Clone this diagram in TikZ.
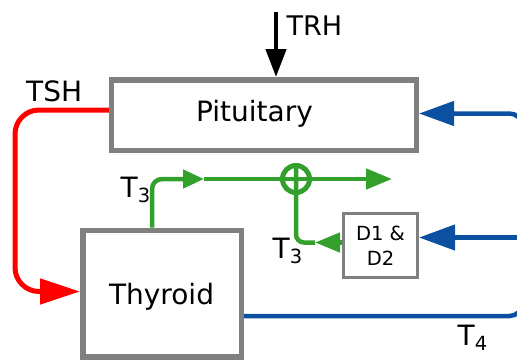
\documentclass[tikz,border=0pt]{standalone}
\usepackage{fontspec}
\setmainfont{DejaVu Sans}
\usetikzlibrary{arrows.meta}
\definecolor{cgray}{RGB}{128,128,128}
\definecolor{cgreen}{RGB}{51,160,44}
\definecolor{cblue}{RGB}{12,80,162}
\newcommand\tsubx[1]{T\raisebox{-5pt}{\fontsize{19.5}{19.5}\selectfont #1}}
\begin{document}
\begin{tikzpicture}[x=1pt,y=-1pt,
  box/.style={draw=cgray, line width=5.5pt, rectangle, inner sep=0pt, fill=white},
  lbl/.style={inner sep=0pt, font=\fontsize{28}{33}\selectfont},
  redline/.style={draw=red, line width=5pt},
  greenline/.style={draw=cgreen, line width=4.5pt},
  blueline/.style={draw=cblue, line width=4.5pt},
  blackline/.style={draw=black, line width=4.5pt}]
\useasboundingbox (0,0) rectangle (517,360);

% boxes
\node[box, minimum width=304.7pt, minimum height=70.5pt] (pit) at (263.9,115) {};
\node[box, minimum width=158.5pt, minimum height=126.5pt] (thy) at (162,293.5) {};
\node[box, line width=3pt, minimum width=74pt, minimum height=64pt, align=center,
      font=\fontsize{19.5}{25}\selectfont] (dd) at (380.5,245.5) {D1 \&\\D2};
\node[lbl, anchor=base] (pittxt) at (254.5,121) {Pituitary};
\node[lbl, anchor=base] (thytxt) at (161.5,304) {Thyroid};

% TRH
\coordinate (trh) at (276,12);
\draw[blackline, -{Triangle[length=28pt,width=20pt]}] (trh) -- (pit.north -| trh);
\node[lbl, font=\fontsize{27}{31}\selectfont, anchor=base west] (trhtxt) at (286.5,35) {TRH};

% TSH
\coordinate (rc) at (15,110);
\draw[redline, rounded corners=24pt, -{Triangle[length=40pt,width=25pt]}]
  (pit.west |- rc) -- (rc) -- (15,291.5) -- (thy.west |- 0,291.5);
\node[lbl, anchor=base west] (tshtxt) at (26,101.5) {TSH};

% green T3
\node[circle, draw=cgreen, line width=5pt, minimum size=27pt, inner sep=0pt] (sum) at (296,179) {};
\coordinate (gx) at (152,179);
\coordinate (gm) at (204,179);
\coordinate (gend) at (392,179);
\coordinate (g2) at (315,242.5);
\draw[greenline, rounded corners=10pt, -{Triangle[length=21pt,width=18pt]}] (thy.north -| gx) |- (gm);
\draw[greenline] (gm) -- (sum.center);
\draw[greenline, -{Triangle[length=26pt,width=20pt]}] (sum.center) -- (gend);
\draw[greenline, rounded corners=8pt] (sum.north) |- (g2);
\draw[greenline, -{Triangle[length=25pt,width=19pt]}] (dd.west |- g2) -- (g2);
\node[lbl, anchor=base west] (t3a) at (120.5,197) {\tsubx{3}};
\node[lbl, anchor=base west] (t3b) at (272.5,258) {\tsubx{3}};

% blue T4
\coordinate (br) at (522.5,316);
\coordinate (tr) at (522.5,113.5);
\coordinate (mr) at (522.5,237.5);
\draw[blueline, rounded corners=13pt, -{Triangle[length=35pt,width=24pt]}]
  (thy.east |- br) -- (br) -- (tr) -- (pit.east |- tr);
\draw[blueline, -{Triangle[length=36pt,width=25pt]}] (mr) -- (dd.east |- mr);
\node[lbl, anchor=base west] (t4) at (457.5,345) {\tsubx{4}};
\end{tikzpicture}
\end{document}
